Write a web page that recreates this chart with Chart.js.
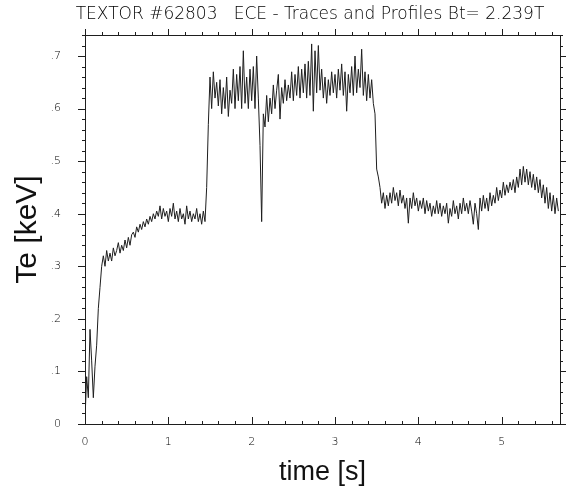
<!DOCTYPE html>
<html>
<head>
<meta charset="utf-8">
<script src="https://cdn.jsdelivr.net/npm/chart.js@4.4.1/dist/chart.umd.min.js"></script>
<style>
  html, body { margin: 0; padding: 0; background: #fff; }
  #wrap { width: 570px; height: 495px; }
</style>
</head>
<body>
<div id="wrap"><canvas id="c"></canvas></div>
<script>
const chartTitle = 'TEXTOR #62803   ECE - Traces and Profiles Bt= 2.239T';
const xTitle = 'time [s]';
const yTitle = 'Te [keV]';

// ECE trace, one reading every 0.02 s starting at t = 0
const sampleStep = 0.02;
const teKeV = [
  0.01, 0.09, 0.05, 0.18, 0.12, 0.05, 0.11, 0.15, 0.22, 0.26,
  0.30, 0.32, 0.30, 0.33, 0.31, 0.325, 0.31, 0.335, 0.32, 0.33,
  0.345, 0.325, 0.34, 0.33, 0.35, 0.335, 0.355, 0.34, 0.36, 0.365,
  0.355, 0.375, 0.365, 0.38, 0.37, 0.385, 0.375, 0.39, 0.38, 0.395,
  0.385, 0.40, 0.39, 0.405, 0.395, 0.415, 0.39, 0.41, 0.395, 0.405,
  0.385, 0.41, 0.395, 0.42, 0.39, 0.405, 0.385, 0.41, 0.39, 0.40,
  0.38, 0.415, 0.39, 0.405, 0.385, 0.40, 0.39, 0.41, 0.385, 0.40,
  0.38, 0.405, 0.385, 0.45, 0.57, 0.66, 0.60, 0.67, 0.62, 0.65,
  0.605, 0.655, 0.59, 0.64, 0.60, 0.66, 0.585, 0.635, 0.61, 0.675,
  0.60, 0.665, 0.615, 0.68, 0.60, 0.71, 0.61, 0.66, 0.60, 0.675,
  0.615, 0.68, 0.60, 0.70, 0.62, 0.53, 0.385, 0.59, 0.565, 0.625,
  0.575, 0.62, 0.59, 0.645, 0.60, 0.635, 0.665, 0.58, 0.64, 0.61,
  0.655, 0.615, 0.645, 0.62, 0.67, 0.615, 0.665, 0.625, 0.68, 0.62,
  0.675, 0.63, 0.685, 0.62, 0.69, 0.625, 0.723, 0.595, 0.71, 0.63,
  0.72, 0.635, 0.675, 0.62, 0.66, 0.61, 0.655, 0.625, 0.67, 0.63,
  0.665, 0.62, 0.675, 0.635, 0.685, 0.625, 0.67, 0.595, 0.665, 0.63,
  0.68, 0.625, 0.70, 0.63, 0.675, 0.64, 0.713, 0.625, 0.67, 0.615,
  0.665, 0.62, 0.655, 0.61, 0.59, 0.485, 0.47, 0.45, 0.42, 0.44,
  0.41, 0.435, 0.415, 0.44, 0.42, 0.45, 0.425, 0.44, 0.415, 0.445,
  0.42, 0.435, 0.41, 0.43, 0.382, 0.43, 0.41, 0.44, 0.415, 0.43,
  0.405, 0.425, 0.41, 0.43, 0.40, 0.425, 0.405, 0.42, 0.395, 0.415,
  0.40, 0.425, 0.40, 0.42, 0.395, 0.415, 0.40, 0.42, 0.382, 0.41,
  0.395, 0.425, 0.40, 0.415, 0.39, 0.42, 0.40, 0.43, 0.405, 0.42,
  0.40, 0.425, 0.405, 0.38, 0.42, 0.40, 0.37, 0.43, 0.405, 0.435,
  0.41, 0.43, 0.405, 0.44, 0.415, 0.435, 0.42, 0.45, 0.425, 0.445,
  0.43, 0.46, 0.435, 0.455, 0.44, 0.46, 0.445, 0.465, 0.44, 0.47,
  0.45, 0.485, 0.455, 0.49, 0.46, 0.485, 0.455, 0.48, 0.45, 0.475,
  0.445, 0.47, 0.44, 0.465, 0.43, 0.455, 0.42, 0.45, 0.41, 0.44,
  0.405, 0.435, 0.40, 0.43, 0.405,
];

const xTickLabels = ['0', '1', '2', '3', '4', '5'];
const yTickLabels = ['0', '.1', '.2', '.3', '.4', '.5', '.6', '.7'];

const ink = '#1e1e1e';
const tickFont = { family: 'DejaVu Sans', size: 11, weight: 300 };

const points = teKeV.map((v, i) => ({ x: i * sampleStep, y: v }));

// frame on top/right plus the little tick marks all round
const frameTicks = {
  id: 'frameTicks',
  afterDraw(chart) {
    const { ctx, chartArea: a, scales } = chart;
    const xs = scales.x;
    const ys = scales.y;
    ctx.save();
    ctx.strokeStyle = ink;
    ctx.lineWidth = 1;
    ctx.beginPath();
    ctx.moveTo(a.left, a.top + 0.5);
    ctx.lineTo(a.right + 0.5, a.top + 0.5);
    ctx.lineTo(a.right + 0.5, a.bottom);
    ctx.stroke();

    ctx.beginPath();
    for (let k = 0; k <= 28; k++) {
      const t = k * 0.2;
      const px = Math.round(xs.getPixelForValue(t)) + 0.5;
      const major = k % 5 === 0;
      ctx.moveTo(px, a.bottom);
      ctx.lineTo(px, a.bottom - (major ? 7 : 3));
      ctx.moveTo(px, a.top);
      ctx.lineTo(px, a.top - (major ? 6 : 3));
    }
    for (let k = 0; k <= 37; k++) {
      const v = k * 0.02;
      const py = Math.round(ys.getPixelForValue(v)) + 0.5;
      const major = k % 5 === 0;
      ctx.moveTo(a.left, py);
      ctx.lineTo(a.left - (major ? 7 : 3), py);
      ctx.moveTo(a.right, py);
      ctx.lineTo(a.right + (major ? 6 : 3), py);
    }
    ctx.stroke();

    ctx.fillStyle = '#000';
    ctx.font = '200 17px "DejaVu Sans"';
    ctx.textAlign = 'center';
    ctx.textBaseline = 'middle';
    ctx.fillText(chartTitle, 310, 15);
    ctx.restore();
  },
};

new Chart(document.getElementById('c'), {
  type: 'line',
  data: {
    datasets: [{
      data: points,
      borderColor: ink,
      borderWidth: 1,
      pointRadius: 0,
      tension: 0,
    }],
  },
  options: {
    responsive: true,
    maintainAspectRatio: false,
    animation: false,
    layout: { padding: { top: 35, right: 10 } },
    plugins: {
      legend: { display: false },
      tooltip: { enabled: false },
    },
    scales: {
      x: {
        type: 'linear',
        min: 0,
        max: 5.7,
        afterFit(scale) { scale.height = 71; },
        grid: { display: false, drawTicks: false },
        border: { display: true, color: ink, width: 1 },
        ticks: {
          stepSize: 1,
          includeBounds: false,
          maxRotation: 0,
          padding: 12,
          color: '#000',
          font: tickFont,
          callback: (v) => xTickLabels[Math.round(v)],
        },
        title: {
          display: true,
          text: xTitle,
          color: '#111',
          font: { family: 'Liberation Sans', size: 27 },
          padding: { top: 0, bottom: 6 },
        },
      },
      y: {
        min: 0,
        max: 0.74,
        afterFit(scale) { scale.width = 85; },
        grid: { display: false, drawTicks: false },
        border: { display: true, color: ink, width: 1 },
        ticks: {
          stepSize: 0.1,
          includeBounds: false,
          padding: 24,
          color: '#000',
          font: tickFont,
          callback: (v) => yTickLabels[Math.round(v * 10)],
        },
        title: {
          display: true,
          text: yTitle,
          color: '#111',
          font: { family: 'Liberation Sans', size: 30 },
          padding: { top: 10, bottom: 0 },
        },
      },
    },
  },
  plugins: [frameTicks],
});
</script>
</body>
</html>
